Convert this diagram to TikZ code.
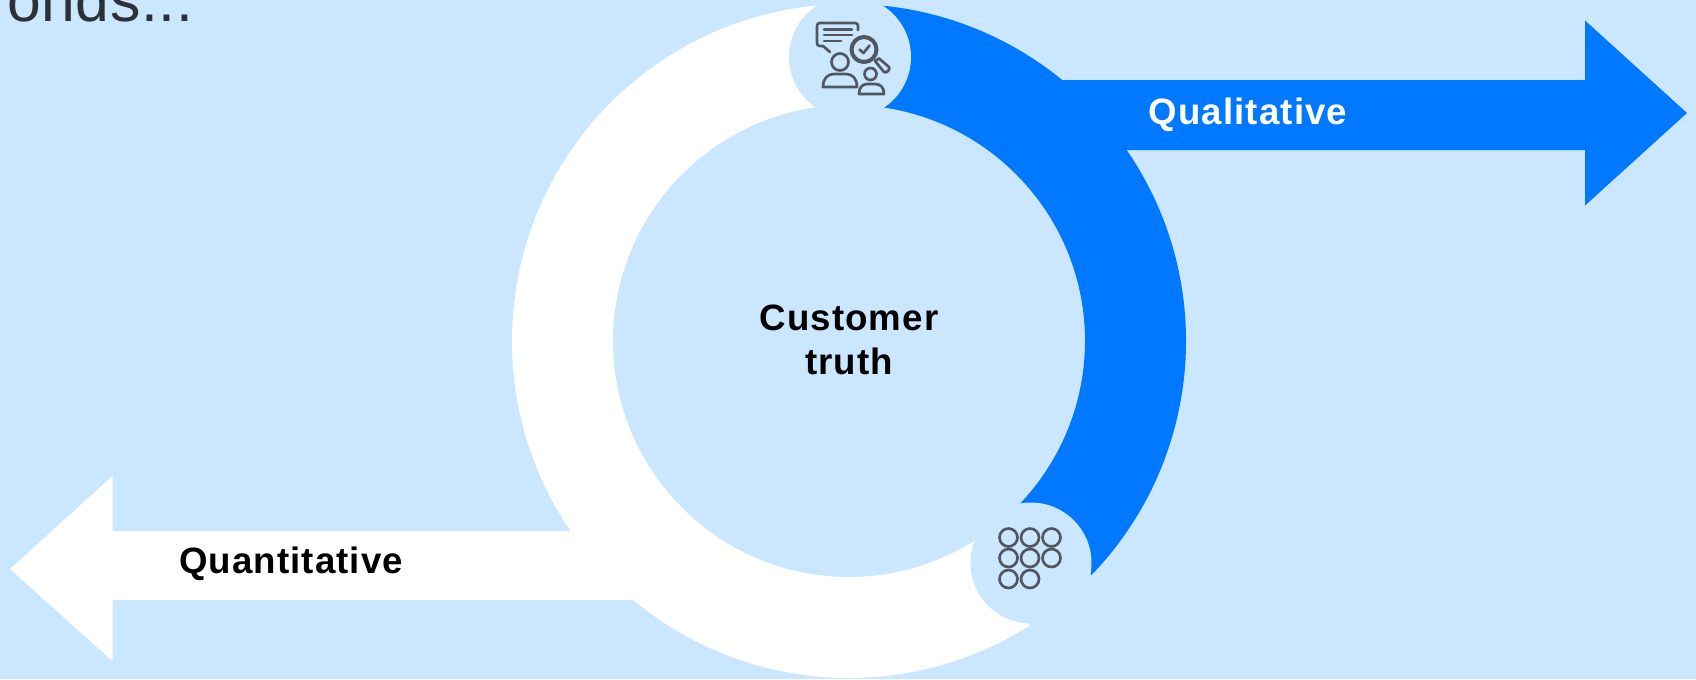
\documentclass[tikz,border=0pt]{standalone}
\usepackage{fontspec}
\setmainfont{Liberation Sans}
\newfontfamily\labelfont[LetterSpace=3]{Liberation Sans}
\newfontfamily\cutfont[LetterSpace=1]{Liberation Sans}
\definecolor{skybg}{HTML}{CBE6FF}
\definecolor{ringblue}{HTML}{0078FF}
\definecolor{icongray}{HTML}{50575E}
\definecolor{inkdark}{HTML}{2B3137}
\tikzset{
  ringpart/.style={line width=75.75pt},
  iconline/.style={draw=icongray,line width=2pt,line cap=round,line join=round},
  labeltext/.style={inner sep=0.75pt,font=\labelfont\fontsize{27.5}{33}\selectfont\bfseries,align=center},
}

\begin{document}
\begin{tikzpicture}[x=0.75pt,y=0.75pt,yscale=-1,xscale=1]
    %Shape: Background
    \fill [skybg] (0,0) rectangle (1696,679);
    \useasboundingbox (0,0) rectangle (1696,679);
    \clip (0,0) rectangle (1696,679);

    % Text Node
    \draw (7,21) node [anchor=base west][inner sep=0pt,text=inkdark,font=\cutfont\fontsize{45.5}{50}\selectfont] (cuttext) {onds...};

    %Shape: Ring white
    \draw [ringpart,white] (849,341) ++(-90:286.5) arc [start angle=-90,end angle=-302.5,radius=286.5];
    %Shape: Ring blue
    \draw [ringpart,ringblue] (849,341) ++(-90:286.5) arc [start angle=-90,end angle=44,radius=286.5];

    %Shape: Arrow white
    \fill [white] (10,569) -- (112.5,476) -- (112.5,531) -- (600,531) -- (650,600) -- (112.5,600) -- (112.5,661) -- cycle;
    %Shape: Arrow blue
    \fill [ringblue] (1050,80) -- (1585,80) -- (1585,20.5) -- (1687,113) -- (1585,205.5) -- (1585,150) -- (1110,150) -- cycle;

    %Shape: Circle top
    \fill [skybg] (850,57) circle [radius=61];
    %Shape: Circle bottom
    \fill [skybg] (1031,563) circle [radius=60.5];

    %Shape: Speech bubble
    \draw [iconline] (858,30) -- (858,26) .. controls (858,24) and (857,23) .. (855,23) -- (820,23) .. controls (818,23) and (817,24) .. (817,26) -- (817,43) .. controls (817,45) and (818,46) .. (820,46) -- (823,46) -- (830,52);
    \draw [iconline] (824,29.5) -- (852,29.5) (824,35) -- (852,35) (824,41) -- (841,41);
    %Shape: Person large
    \draw [iconline] (840,62) circle [radius=8.5];
    \draw [iconline] (823,87) .. controls (823,78) and (828,74) .. (834,74) -- (846,74) .. controls (852,74) and (857,78) .. (857,87) -- cycle;
    %Shape: Lens
    \draw [iconline,line width=3pt] (864,49.5) circle [radius=12.5];
    \draw [iconline] (859.5,49.5) -- (863.5,53) -- (869.5,45.5);
    %Shape: Handle
    \draw [iconline] (875,61) -- (879,58.5) -- (889,67) .. controls (891,69) and (886,74) .. (884,72) -- cycle;
    %Shape: Person small
    \draw [iconline] (870.5,74) circle [radius=6];
    \draw [iconline] (859,94) .. controls (859,87) and (863,84) .. (867,84) -- (875,84) .. controls (880,84) and (884,87) .. (884,94) -- cycle;

    %Shape: Circle grid
    \foreach \gridx/\gridy in {1008.5/537.5,1030/537.5,1051.5/537.5,1008.5/558,1030/558,1051.5/558,1008.5/579,1030/579}
      \draw [iconline] (\gridx,\gridy) circle [radius=9];

    % Text Node
    \draw (849,340) node [labeltext] (centertext) {Customer\\truth};
    % Text Node
    \draw (1248,115) node [labeltext,text=white] (qualtext) {Qualitative};
    % Text Node
    \draw (291,564) node [labeltext,text=black] (quanttext) {Quantitative};
\end{tikzpicture}
\end{document}
